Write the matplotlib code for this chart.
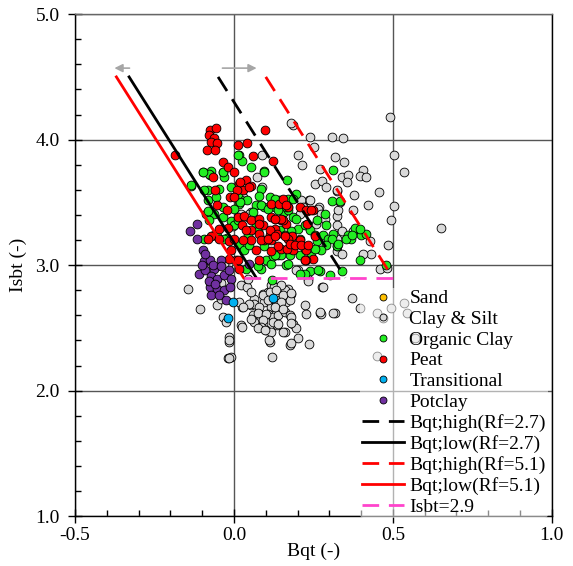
import matplotlib
matplotlib.use('Agg')
import matplotlib.pyplot as plt
import numpy as np
from matplotlib.lines import Line2D

plt.rcParams['font.family'] = ['Liberation Serif', 'DejaVu Serif']
plt.rcParams['font.size'] = 14

# --- data (Bqt, Isbt) ---
clay_silt = [
    (0.49, 4.18), (0.186, 4.12), (0.178, 4.13), (0.24, 4.02), (0.309, 4.02), (0.344, 4.01), (0.251, 3.94),
    (0.203, 3.88), (0.317, 3.86), (0.505, 3.88), (0.214, 3.80), (0.272, 3.77), (0.347, 3.82), (0.407, 3.76),
    (0.534, 3.74), (0.341, 3.70), (0.36, 3.72), (0.395, 3.71), (0.415, 3.70), (0.357, 3.66), (0.254, 3.65),
    (0.278, 3.67), (0.289, 3.62), (0.323, 3.59), (0.379, 3.56), (0.455, 3.58), (0.423, 3.48), (0.502, 3.47),
    (0.325, 3.39), (0.376, 3.44), (0.495, 3.36), (0.236, 3.52), (0.267, 3.46), (0.323, 3.32), (0.376, 3.27),
    (0.333, 3.25), (0.65, 3.30), (0.484, 3.16), (0.43, 3.09), (0.46, 2.97), (0.407, 3.09), (0.428, 3.19),
    (0.481, 2.98), (0.323, 3.21), (0.18, 3.20), (0.202, 2.96), (0.233, 2.89), (0.17, 2.81),
    (0.088, 3.88), (0.073, 3.70), (0.088, 3.62), (0.054, 3.42), (0.043, 3.38), (0.027, 3.54), (-0.004, 3.31),
    (0.022, 3.41), (0.048, 3.41), (-0.02, 3.01),
    (0.212, 3.52), (0.238, 3.52), (0.217, 3.46), (0.265, 3.45), (0.275, 3.41), (0.207, 3.41), (0.286, 3.37),
    (0.259, 3.33), (0.339, 3.27), (0.323, 3.11), (0.339, 3.09), (0.328, 3.44), (0.333, 3.50), (0.323, 3.60),
    (-0.145, 2.81), (-0.107, 2.65), (-0.052, 2.68), (-0.036, 2.59), (-0.025, 2.55), (0.022, 2.52),
    (-0.015, 2.43), (-0.015, 2.39), (-0.02, 2.26), (-0.009, 2.27), (0.022, 2.84), (0.041, 2.83), (0.025, 2.67),
    (0.052, 2.68), (0.064, 2.73), (0.077, 2.62), (0.091, 2.77), (0.094, 2.71), (0.107, 2.79), (0.117, 2.67),
    (0.133, 2.68), (0.149, 2.73), (0.165, 2.71), (0.107, 2.61), (0.122, 2.59), (0.138, 2.60), (0.159, 2.63),
    (0.064, 2.55), (0.091, 2.53), (0.101, 2.48), (0.117, 2.47), (0.136, 2.52), (0.159, 2.47), (0.112, 2.39),
    (0.12, 2.27), (0.175, 2.60), (0.175, 2.36), (0.043, 2.89), (-0.031, 3.01), (0.117, 2.84), (0.138, 2.83),
    (0.159, 2.80), (0.059, 2.60), (0.18, 2.77), (0.175, 2.72), (0.222, 2.68), (0.228, 2.61), (0.27, 2.62),
    (0.275, 2.61), (0.317, 2.62), (0.18, 2.59), (0.186, 2.53), (0.196, 2.50), (0.202, 2.42), (0.18, 2.38),
    (0.235, 2.37), (0.278, 2.83), (0.233, 2.87), (0.37, 2.74), (0.47, 2.58), (0.451, 2.62), (0.449, 2.28),
    (0.397, 2.66), (0.494, 2.66), (0.534, 2.70), (0.544, 2.62), (0.571, 2.42), (0.154, 2.47), (0.125, 2.83),
    (0.149, 2.84), (-0.041, 2.73), (-0.04, 2.86), (0.196, 2.96),
    (0.054, 2.79), (0.091, 2.76), (0.112, 2.79), (0.133, 2.80), (0.154, 2.76), (0.18, 2.78), (0.149, 2.71),
    (0.107, 2.72), (0.064, 2.69), (0.048, 2.69), (0.017, 2.71), (0.027, 2.67), (0.08, 2.67), (0.128, 2.67),
    (0.154, 2.65), (0.075, 2.62), (0.101, 2.61), (0.054, 2.57), (0.091, 2.56), (0.122, 2.55), (0.18, 2.54),
    (0.085, 2.51), (0.075, 2.50), (0.099, 2.48), (0.138, 2.53), (0.025, 2.51), (0.27, 2.63), (0.312, 2.62),
    (0.281, 2.83), (0.11, 2.40), (-0.015, 2.40), (-0.015, 2.26),
]
organic_clay = [
    (0.017, 3.88), (0.025, 3.83), (0.052, 3.78), (0.094, 3.75), (-0.097, 3.74), (-0.073, 3.75), (-0.036, 3.74),
    (-0.075, 3.72), (-0.031, 3.70), (-0.136, 3.63), (-0.047, 3.61), (-0.083, 3.60), (0.085, 3.61), (0.08, 3.55),
    (0.114, 3.54), (0.143, 3.52), (0.167, 3.68), (-0.081, 3.52), (-0.055, 3.54), (0.022, 3.52), (0.015, 3.49),
    (0.041, 3.52), (0.07, 3.48), (0.096, 3.46), (0.128, 3.46), (0.159, 3.46), (-0.089, 3.41), (-0.034, 3.46),
    (-0.009, 3.35), (0.001, 3.32), (0.07, 3.32), (0.157, 3.42), (0.17, 3.46), (-0.062, 3.24), (-0.094, 3.21),
    (-0.022, 3.22), (0.043, 3.24), (0.146, 3.28),
    (0.312, 3.76), (0.307, 3.51), (0.333, 3.51), (0.381, 3.30), (0.399, 3.24), (0.416, 3.25), (0.36, 3.24),
    (0.286, 3.41), (0.291, 3.32), (0.262, 3.36), (0.17, 3.44), (0.186, 3.38), (0.202, 3.29), (0.228, 3.32),
    (0.281, 3.24), (0.312, 3.25), (0.17, 3.53), (0.196, 3.57),
    (0.017, 3.17), (0.033, 3.12), (0.038, 2.97), (0.085, 2.97), (0.101, 3.04), (0.117, 3.01), (0.138, 3.08),
    (0.165, 3.00), (0.119, 2.88), (0.175, 3.08),
    (0.397, 3.04), (0.479, 3.00), (0.339, 2.95), (0.27, 2.95), (0.238, 2.95), (0.222, 2.93),
    (0.17, 3.01), (0.207, 3.08), (0.26, 3.19), (0.296, 3.21), (0.323, 3.15), (0.265, 2.96), (0.207, 2.93),
    (0.302, 2.92), (0.368, 3.21), (0.325, 3.15),
    (0.001, 3.45), (0.02, 3.50), (0.059, 3.42), (0.085, 3.48), (0.107, 3.45), (0.165, 3.46), (0.075, 3.27),
    (0.048, 3.16), (0.096, 3.15), (0.122, 3.07), (0.149, 3.08), (0.012, 3.36), (-0.062, 3.41), (-0.036, 3.38),
    (-0.078, 3.36), (-0.054, 3.23), (-0.031, 3.21), (0.075, 2.99), (-0.094, 3.60), (-0.078, 3.73),
    (-0.033, 3.74), (-0.009, 3.62), (0.014, 3.57), (0.014, 3.88), (0.096, 3.74), (-0.099, 3.74), (-0.134, 3.64),
    (-0.081, 3.43),
    (0.307, 3.21), (0.291, 3.16), (0.328, 3.17), (0.354, 3.21), (0.37, 3.24), (0.397, 3.29), (0.128, 3.53),
    (0.138, 3.44), (0.186, 3.53), (0.196, 3.37), (0.222, 3.32), (0.238, 3.28), (0.254, 3.24), (0.18, 3.27),
    (0.159, 3.24), (0.128, 3.08), (0.243, 3.07), (0.275, 3.12), (0.254, 3.13), (0.222, 3.13), (0.207, 3.21),
]
peat = [
    (-0.075, 4.08), (-0.057, 4.09), (-0.078, 4.04), (-0.062, 4.01), (-0.073, 3.98), (-0.052, 3.97), (-0.085, 3.92),
    (-0.06, 3.92), (0.098, 4.08), (0.012, 3.96), (0.041, 3.97), (0.059, 3.87), (0.122, 3.83), (-0.034, 3.82),
    (-0.02, 3.78), (0.001, 3.74), (-0.065, 3.70), (-0.187, 3.88), (0.017, 3.65), (0.038, 3.68), (0.054, 3.63),
    (0.027, 3.60), (0.009, 3.60), (-0.059, 3.60), (-0.052, 3.48), (-0.012, 3.54), (-0.023, 3.44), (0.012, 3.38),
    (0.033, 3.39), (0.054, 3.36), (0.024, 3.32), (0.08, 3.37), (0.117, 3.38), (0.149, 3.36), (-0.047, 3.29),
    (0.054, 3.28), (0.091, 3.32), (0.128, 3.29), (0.165, 3.33), (0.08, 3.25), (0.112, 3.24), (0.136, 3.25),
    (-0.073, 3.23),
    (0.23, 3.43), (0.249, 3.44), (0.184, 3.23), (0.23, 3.33), (0.254, 3.23), (0.17, 3.46), (0.207, 3.46),
    (0.175, 3.13), (0.228, 3.12), (0.249, 3.05), (0.228, 3.04), (0.175, 3.15), (0.207, 3.20), (0.186, 3.12),
    (0.222, 3.04),
    (-0.047, 3.21), (-0.015, 3.19), (-0.009, 3.12), (-0.015, 3.05), (0.006, 3.04), (0.015, 2.97), (0.07, 3.12),
    (0.08, 3.04), (0.117, 3.11), (0.149, 3.13), (0.096, 3.20), (0.117, 3.20), (0.054, 3.20), (0.17, 3.21),
    (0.02, 3.66), (0.048, 3.62), (0.001, 3.54), (0.117, 3.49), (0.143, 3.49), (0.08, 3.33), (0.128, 3.37),
    (0.154, 3.36), (0.001, 3.21), (0.027, 3.20), (0.085, 3.20), (0.107, 3.21), (0.167, 3.13), (0.138, 3.15),
    (-0.02, 3.30), (0.012, 3.04), (0.112, 3.28), (0.038, 3.28), (-0.083, 3.21),
    (0.154, 3.53), (0.165, 3.48), (0.149, 3.37), (0.128, 3.37), (0.228, 3.44), (0.243, 3.44), (0.159, 3.23),
    (0.175, 3.17), (0.191, 3.16), (0.212, 3.16), (0.233, 3.16), (0.222, 3.04), (0.128, 3.23),
]
potclay = [
    (-0.115, 3.33), (-0.139, 3.27), (-0.117, 3.21), (-0.096, 3.12), (-0.094, 3.03), (-0.075, 3.04),
    (-0.11, 2.93), (-0.091, 2.96), (-0.062, 2.97), (-0.041, 3.04), (-0.073, 2.91), (-0.052, 2.89), (-0.031, 2.92),
    (-0.015, 2.96), (-0.009, 2.89), (-0.075, 2.83), (-0.052, 2.81), (-0.031, 2.80), (-0.012, 2.83), (-0.073, 2.76),
    (-0.047, 2.76), (-0.025, 2.72), (-0.067, 3.00), (-0.041, 2.99), (0.048, 3.01), (-0.09, 3.09), (-0.08, 2.87),
    (-0.06, 2.85), (-0.10, 3.00),
]
transitional = [(-0.004, 2.71), (-0.018, 2.58), (0.122, 2.74)]
sand = []

# boundary lines (Bqt at Isbt=4.5 and Isbt=2.9)
line_isbt = [4.5, 2.9]
bqt_high_27 = [-0.05, 0.35]
bqt_low_27 = [-0.33, 0.07]
bqt_high_51 = [0.10, 0.50]
bqt_low_51 = [-0.37, 0.03]
isbt_lim_x = [0.03, 0.50]
isbt_lim_y = [2.9, 2.9]

fig = plt.figure(figsize=(5.73, 5.66), dpi=100)
ax = fig.add_axes([0.131, 0.088, 0.832, 0.887])

def pts(lst):
    a = np.array(lst, dtype=float).reshape(-1, 2)
    return a[:, 0], a[:, 1]

groups = [
    (clay_silt, '#d9d9d9'),
    (organic_clay, '#22ee22'),
    (peat, '#ff0000'),
    (potclay, '#7030a0'),
    (transitional, '#00b0f0'),
    (sand, '#ffc000'),
]
for data, col in groups:
    x, y = pts(data)
    ax.scatter(x, y, s=40, c=col, edgecolors='black', linewidths=0.6, zorder=3)

ax.plot(bqt_high_27, line_isbt, color='black', lw=2, dashes=(6, 3.5), zorder=4)
ax.plot(bqt_low_27, line_isbt, color='black', lw=2, zorder=4)
ax.plot(bqt_high_51, line_isbt, color='red', lw=2, dashes=(6, 3.5), zorder=4)
ax.plot(bqt_low_51, line_isbt, color='red', lw=2, zorder=4)
ax.plot(isbt_lim_x, isbt_lim_y, color='#ff44cc', lw=2, dashes=(6, 3.5), zorder=4)

# direction arrows
ax.annotate('', xy=(-0.385, 4.57), xytext=(-0.32, 4.57),
            arrowprops=dict(arrowstyle='-|>', color='#a6a6a6', lw=1.2, mutation_scale=12))
ax.annotate('', xy=(0.08, 4.57), xytext=(-0.045, 4.57),
            arrowprops=dict(arrowstyle='-|>', color='#a6a6a6', lw=1.2, mutation_scale=12))

ax.set_xlim(-0.5, 1.0)
ax.set_ylim(1.0, 5.0)
ax.set_xticks([-0.5, 0.0, 0.5, 1.0])
ax.set_yticks([1.0, 2.0, 3.0, 4.0, 5.0])
ax.set_xticks(np.arange(-0.5, 1.01, 0.1), minor=True)
ax.set_yticks(np.arange(1.0, 5.01, 0.2), minor=True)
ax.xaxis.set_major_formatter(matplotlib.ticker.FormatStrFormatter('%.1f'))
ax.yaxis.set_major_formatter(matplotlib.ticker.FormatStrFormatter('%.1f'))
ax.tick_params(which='major', direction='inout', length=10, width=1)
ax.tick_params(axis='y', which='major', pad=6)
ax.tick_params(axis='x', which='major', pad=3)
ax.tick_params(which='minor', direction='in', length=4, width=1)
ax.grid(which='major', color='#555555', lw=1, zorder=0)
ax.set_axisbelow(True)
for sp in ax.spines.values():
    sp.set_linewidth(1)
ax.spines['top'].set_color('#666666')

ax.set_xlabel('Bqt (-)', labelpad=-1)
ax.set_ylabel('Isbt (-)', labelpad=6)

def mk(col):
    return Line2D([], [], ls='none', marker='o', ms=5, mfc=col, mec='black', mew=0.6)

handles = [mk('#ffc000'), mk('#d9d9d9'), mk('#22ee22'), mk('#ff0000'), mk('#00b0f0'), mk('#7030a0'),
           Line2D([], [], color='black', lw=2, dashes=(6, 3.5)),
           Line2D([], [], color='black', lw=2),
           Line2D([], [], color='red', lw=2, dashes=(6, 3.5)),
           Line2D([], [], color='red', lw=2),
           Line2D([], [], color='#ff44cc', lw=2, dashes=(6, 3.5))]
labels = ['Sand', 'Clay & Silt', 'Organic Clay', 'Peat', 'Transitional', 'Potclay',
          'Bqt;high(Rf=2.7)', 'Bqt;low(Rf=2.7)', 'Bqt;high(Rf=5.1)', 'Bqt;low(Rf=5.1)', 'Isbt=2.9']
leg = ax.legend(handles, labels, loc='upper left', bbox_to_anchor=(0.597, 0.455), frameon=True,
                framealpha=0.55, edgecolor='none', facecolor='white', borderpad=0.1, borderaxespad=0,
                handlelength=2.2, handletextpad=0.25, labelspacing=0.16, fontsize=14)
leg.set_zorder(5)

fig.savefig('out.png', dpi=100)
